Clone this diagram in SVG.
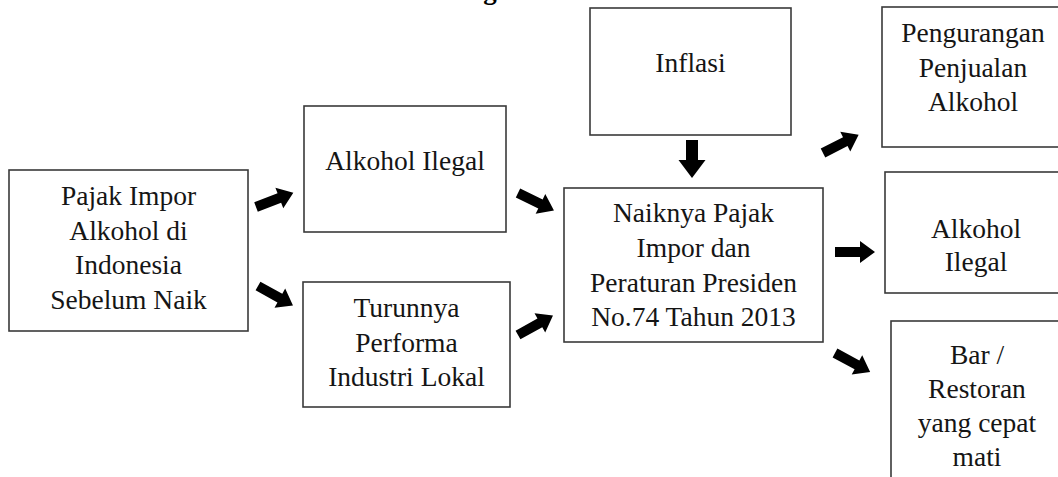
<svg xmlns="http://www.w3.org/2000/svg" width="1058" height="477" viewBox="0 0 1058 477">
<style>
.box{fill:#fff;stroke:#3a3a3a;stroke-width:1.6}
.t{font-family:'Liberation Serif','Times New Roman',serif;font-size:27.5px;fill:#151515;text-anchor:middle}
.arr{fill:#000}
</style>
<defs>
<path id="ar" d="M0,-5 H25 V-11 L40,0 L25,11 V5 H0 Z"/>
</defs>
<rect width="1058" height="477" fill="#fff"/>
<text x="490" y="-1" font-family="Liberation Serif, serif" font-size="27" font-weight="bold" fill="#000" text-anchor="middle">g</text>
<g id="n-pajak">
<rect class="box" x="9" y="170" width="239" height="161"/>
<text class="t" x="128.5" y="205">Pajak Impor</text>
<text class="t" x="128.5" y="239.5">Alkohol di</text>
<text class="t" x="128.5" y="274">Indonesia</text>
<text class="t" x="128.5" y="308.5">Sebelum Naik</text>
</g>
<g id="n-ilegal1">
<rect class="box" x="304" y="106" width="202" height="126"/>
<text class="t" x="405" y="170">Alkohol Ilegal</text>
</g>
<g id="n-turun">
<rect class="box" x="303" y="282" width="207" height="125"/>
<text class="t" x="406.5" y="317">Turunnya</text>
<text class="t" x="406.5" y="351.5">Performa</text>
<text class="t" x="406.5" y="386">Industri Lokal</text>
</g>
<g id="n-inflasi">
<rect class="box" x="590" y="8" width="201" height="127"/>
<text class="t" x="690.5" y="72">Inflasi</text>
</g>
<g id="n-naik">
<rect class="box" x="564" y="188" width="259" height="154"/>
<text class="t" x="693.5" y="222">Naiknya Pajak</text>
<text class="t" x="693.5" y="257">Impor dan</text>
<text class="t" x="693.5" y="291.5">Peraturan Presiden</text>
<text class="t" x="693.5" y="326">No.74 Tahun 2013</text>
</g>
<g id="n-pengurangan">
<rect class="box" x="882" y="7" width="190" height="140"/>
<text class="t" x="973" y="42">Pengurangan</text>
<text class="t" x="973" y="76.5">Penjualan</text>
<text class="t" x="973" y="111">Alkohol</text>
</g>
<g id="n-ilegal2">
<rect class="box" x="885" y="172" width="190" height="121"/>
<text class="t" x="976" y="238">Alkohol</text>
<text class="t" x="976" y="271">Ilegal</text>
</g>
<g id="n-bar">
<rect class="box" x="891" y="321" width="190" height="170"/>
<text class="t" x="977" y="364">Bar /</text>
<text class="t" x="977" y="398">Restoran</text>
<text class="t" x="977" y="432">yang cepat</text>
<text class="t" x="977" y="466">mati</text>
</g>
<g id="connectors" class="arr">
<use href="#ar" transform="translate(256,207) rotate(-21)"/>
<use href="#ar" transform="translate(258,286) rotate(29)"/>
<use href="#ar" transform="translate(518,193) rotate(26)"/>
<use href="#ar" transform="translate(518,335) rotate(-29)"/>
<path d="M686,140 H698 V160 H705.5 L692,178 L678.5,160 H686 Z"/>
<use href="#ar" transform="translate(835,252)"/>
<use href="#ar" transform="translate(823,153) rotate(-27)"/>
<use href="#ar" transform="translate(835,353) rotate(28.5)"/>
</g>
</svg>
